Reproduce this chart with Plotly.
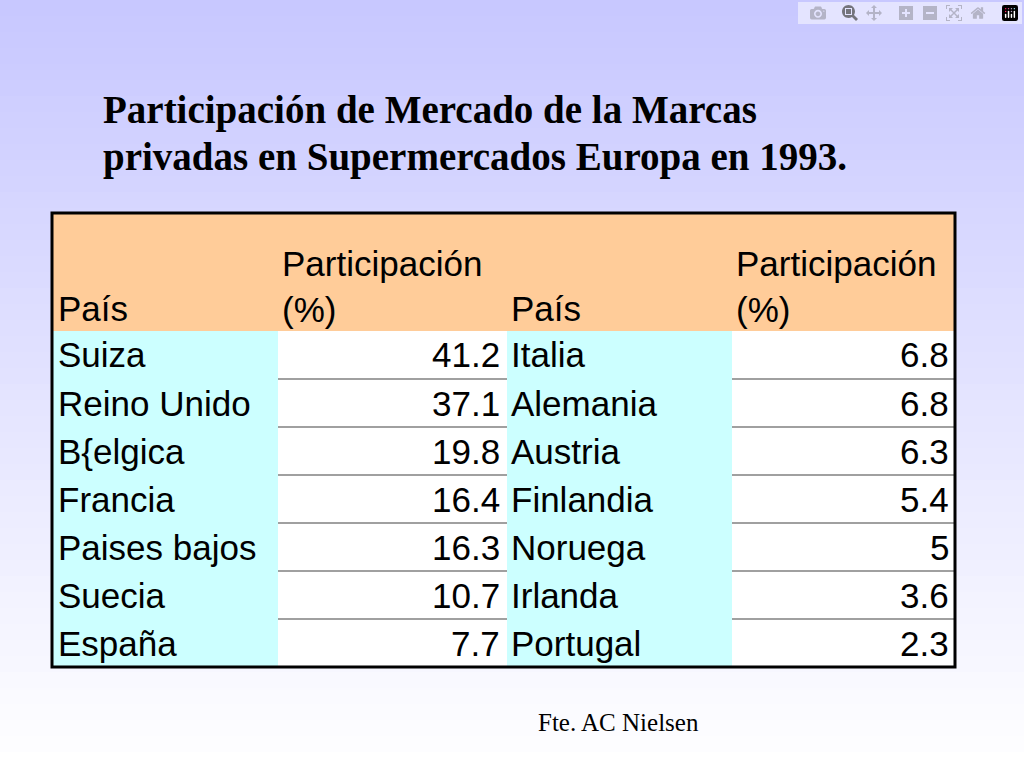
import plotly.graph_objects as go

title_lines = ["Participación de Mercado de la Marcas", "privadas en Supermercados Europa en 1993."]
header_country = "País"
header_value = ["Participación", "(%)"]
left_countries = ["Suiza", "Reino Unido", "B{elgica", "Francia", "Paises bajos", "Suecia", "España"]
left_values = ["41.2", "37.1", "19.8", "16.4", "16.3", "10.7", "7.7"]
right_countries = ["Italia", "Alemania", "Austria", "Finlandia", "Noruega", "Irlanda", "Portugal"]
right_values = ["6.8", "6.8", "6.3", "5.4", "5", "3.6", "2.3"]
source = "Fte. AC Nielsen"

W, H = 1024, 768
def px(x): return x / W
def py(y): return 1 - y / H

shapes, ann = [], []
n = 48
for i in range(n):
    t = i / (n - 1)
    r = int(200 + (255 - 200) * t); b = 255
    shapes.append(dict(type="rect", xref="paper", yref="paper", x0=0, x1=1,
                       y0=py((i + 1) * H / n + 1), y1=py(i * H / n),
                       fillcolor=f"rgb({r},{r},{b})", line_width=0, layer="below"))

X = [52, 278, 507, 732, 955]
top, hdr_bot, bot = 213, 331, 667
rh = (bot - hdr_bot) / 7
shapes.append(dict(type="rect", xref="paper", yref="paper", x0=px(X[0]), x1=px(X[4]),
                   y0=py(hdr_bot), y1=py(top), fillcolor="#ffcc99", line_width=0, layer="below"))
for c in range(4):
    col = "#ccffff" if c % 2 == 0 else "#ffffff"
    shapes.append(dict(type="rect", xref="paper", yref="paper", x0=px(X[c]), x1=px(X[c + 1]),
                       y0=py(bot), y1=py(hdr_bot), fillcolor=col, line_width=0, layer="below"))
for r in range(1, 7):
    y = hdr_bot + r * rh
    for c in (1, 3):
        shapes.append(dict(type="line", xref="paper", yref="paper", x0=px(X[c]), x1=px(X[c + 1]),
                           y0=py(y), y1=py(y), line=dict(color="#a0a0a0", width=2)))
shapes.append(dict(type="rect", xref="paper", yref="paper", x0=px(X[0]), x1=px(X[4]),
                   y0=py(bot), y1=py(top), line=dict(color="black", width=3)))

F = dict(family="Liberation Sans, Arial", size=35, color="black")
def t(x, y, s, anchor="left", font=F):
    ann.append(dict(xref="paper", yref="paper", x=px(x), y=py(y), text=s, showarrow=False,
                    xanchor=anchor, yanchor="middle", font=font))

SER = dict(family="Liberation Serif, Times New Roman", size=39, color="black")
for k, line in enumerate(title_lines):
    t(101, 110 + 47 * k, f"<b>{line}</b>", font=SER)

t(56, 308, header_country); t(509, 308, header_country)
t(280, 263, header_value[0]); t(280, 310, header_value[1])
t(734, 263, header_value[0]); t(734, 310, header_value[1])

for i in range(7):
    y = hdr_bot + (i + 0.5) * rh
    t(56, y, left_countries[i]); t(502, y, left_values[i], "right")
    t(509, y, right_countries[i]); t(951, y, right_values[i], "right")

t(536, 722, source, font=dict(family="Liberation Serif, Times New Roman", size=25, color="black"))

fig = go.Figure()
fig.update_layout(width=W, height=H, margin=dict(l=0, r=0, t=0, b=0),
                  paper_bgcolor="white", plot_bgcolor="rgba(0,0,0,0)",
                  xaxis=dict(visible=False), yaxis=dict(visible=False),
                  shapes=shapes, annotations=ann, showlegend=False)
fig.write_html("out.html", post_script="document.body.style.margin='0';document.body.style.overflow='hidden';")
